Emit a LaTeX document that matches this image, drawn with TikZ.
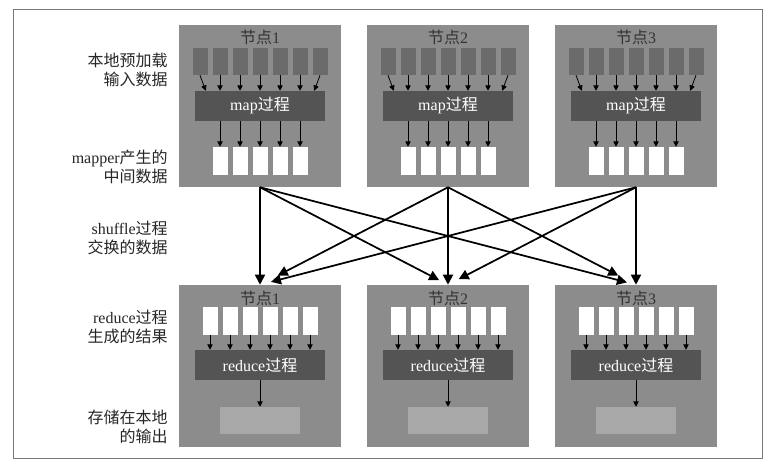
\documentclass[tikz,border=0pt]{standalone}
\usepackage{fontspec}
\setmainfont{Liberation Serif}
\newfontfamily\cjk{Noto Sans CJK SC}
\newcommand\zh[1]{{\cjk #1}}
\usetikzlibrary{arrows.meta}

\definecolor{hostgray}{gray}{0.55}
\definecolor{ingray}{gray}{0.42}
\definecolor{procgray}{gray}{0.33}
\definecolor{storegray}{gray}{0.66}
\definecolor{framegray}{gray}{0.47}

\begin{document}
\begin{tikzpicture}[x=0.75pt,y=-0.75pt,
  font=\fontsize{12pt}{14.25pt}\selectfont,
  host/.style={fill=hostgray,minimum width=121.5pt,minimum height=121.5pt,inner sep=0pt},
  title/.style={text=black!80,inner sep=0pt},
  insq/.style={fill=ingray,minimum width=11.25pt,minimum height=20.25pt,inner sep=0pt},
  outsq/.style={fill=white,minimum width=11.25pt,minimum height=21pt,inner sep=0pt},
  proc/.style={fill=procgray,text=white,minimum width=97.5pt,minimum height=22.5pt,inner sep=0pt},
  store/.style={fill=storegray,minimum width=60pt,minimum height=20.25pt,inner sep=0pt},
  lab/.style={anchor=east,align=right,text=black!85,inner sep=0pt},
  sarr/.style={line width=0.6pt,-{Triangle[length=4pt,width=4pt]}},
  barr/.style={line width=1.3pt,-{Triangle[length=7.5pt,width=7.5pt]}}]
\useasboundingbox (0,0) rectangle (775,470);
\draw[framegray,line width=0.75pt] (13,10) rectangle (762,458);

% row labels
\node[lab] (l1) at (168,69.5) {\zh{本地预加载}\\\zh{输入数据}};
\node[lab] (l2) at (168,166.5) {mapper\zh{产生的}\\\zh{中间数据}};
\node[lab] (l3) at (168,237.5) {shuffle\zh{过程}\\\zh{交换的数据}};
\node[lab] (l4) at (168,327) {reduce\zh{过程}\\\zh{生成的结果}};
\node[lab] (l5) at (168,427) {\zh{存储在本地}\\\zh{的输出}};

% map side
\foreach \i/\cx in {1/260,2/448,3/636}{
  \node[host] (t\i) at (\cx,106) {};
  \node[title] (th\i) at (\cx,37) {\zh{节点}\i};
  \node[proc] (map\i) at (\cx,106) {map\zh{过程}};
  \foreach \k in {1,...,7}
    \node[insq] (in\i\k) at ({\cx+20*\k-80},61.5) {};
  \foreach \k in {2,...,6}
    \draw[sarr] (in\i\k.south) -- (in\i\k.south |- map\i.north);
  \draw[sarr] (in\i1.south) -- ([xshift=8.25pt]map\i.north west);
  \draw[sarr] (in\i7.south) -- ([xshift=-8.25pt]map\i.north east);
  \foreach \k in {1,...,5}{
    \node[outsq] (mo\i\k) at ({\cx+20*\k-60},161) {};
    \draw[sarr] (mo\i\k.north |- map\i.south) -- (mo\i\k.north);
  }
}

% reduce side
\foreach \i/\cx in {1/260,2/448,3/636}{
  \node[host] (r\i) at (\cx,366) {};
  \node[title] (rh\i) at (\cx,298) {\zh{节点}\i};
  \node[proc] (red\i) at (\cx,365) {reduce\zh{过程}};
  \node[store] (st\i) at (\cx,420.5) {};
  \foreach \k in {1,...,6}{
    \node[outsq] (ri\i\k) at ({\cx+20*\k-70},321) {};
    \draw[sarr] (ri\i\k.south) -- (ri\i\k.south |- red\i.north);
  }
  \draw[sarr] (red\i) -- (st\i);
}

% shuffle
\draw[barr] (t1.south) -- (r1.north);
\draw[barr,shorten >=7.5pt] (t1.south) -- (r2.north);
\draw[barr,shorten >=7pt] (t1.south) -- (r3.north);
\draw[barr,shorten >=15pt] (t2.south) -- (r1.north);
\draw[barr] (t2.south) -- (r2.north);
\draw[barr,shorten >=15pt] (t2.south) -- (r3.north);
\draw[barr,shorten >=8.5pt] (t3.south) -- (r1.north);
\draw[barr,shorten >=9pt] (t3.south) -- (r2.north);
\draw[barr] (t3.south) -- (r3.north);
\end{tikzpicture}
\end{document}
